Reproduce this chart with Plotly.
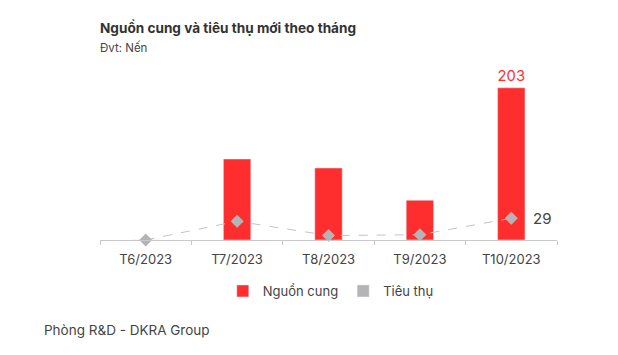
import plotly.graph_objects as go

months = ["T6/2023", "T7/2023", "T8/2023", "T9/2023", "T10/2023"]
nguon_cung = [0, 108, 96, 53, 203]
tieu_thu = [0, 25, 6, 7, 29]

RED = "#ff2e2e"
GRAY = "#b4b4b6"
FONT = "Inter"

bar_text = [str(v) if i == len(nguon_cung) - 1 else "" for i, v in enumerate(nguon_cung)]

fig = go.Figure()
fig.add_trace(go.Bar(
    x=months, y=nguon_cung, name="Nguồn cung",
    marker=dict(color=RED), width=0.3,
    text=bar_text, textposition="outside", cliponaxis=False,
    textfont=dict(color=RED, size=15, family=FONT),
))
fig.add_trace(go.Scatter(
    x=months, y=tieu_thu, name="Tiêu thụ", mode="lines+markers",
    line=dict(color="#c4c4c4", width=1, dash="dash"),
    marker=dict(symbol="diamond", size=10, color=GRAY),
    cliponaxis=False,
    showlegend=False,
))
# legend swatch for Tiêu thụ
fig.add_trace(go.Bar(x=[None], y=[None], name="Tiêu thụ", marker=dict(color=GRAY)))

fig.update_layout(
    width=610, height=347,
    margin=dict(l=92, r=61, t=52, b=115),
    paper_bgcolor="white", plot_bgcolor="white",
    font=dict(family=FONT, color="#444444"),
    barmode="overlay",
    showlegend=True,
    legend=dict(orientation="h", x=0.505, xanchor="center", y=-0.20, yanchor="top",
                font=dict(size=13, color="#444444"), itemwidth=30,
                traceorder="normal"),
    xaxis=dict(showline=True, linecolor="#c8c8c8", linewidth=1,
               ticks="outside", tickcolor="#c8c8c8", ticklen=4,
               tickson="boundaries", showgrid=False, ticklabelstandoff=7,
               tickfont=dict(size=13, color="#444444")),
    yaxis=dict(range=[0, 240], visible=False, showgrid=False),
    annotations=[
        dict(text="<b>Nguồn cung và tiêu thụ mới theo tháng</b>", xref="paper", yref="paper",
             x=-0.005, y=1.0, xanchor="left", yanchor="bottom", yshift=22, showarrow=False,
             font=dict(size=13.6, color="#333333", family=FONT)),
        dict(text="Đvt: Nến", xref="paper", yref="paper",
             x=-0.005, y=1.0, xanchor="left", yanchor="bottom", yshift=3, showarrow=False,
             font=dict(size=11.5, color="#444444", family=FONT)),
        dict(text=str(tieu_thu[-1]), x=months[-1], y=tieu_thu[-1], xref="x", yref="y",
             xanchor="left", yanchor="middle", xshift=20, showarrow=False,
             font=dict(size=15, color="#444444", family=FONT)),
        dict(text="Phòng R&D - DKRA Group", xref="paper", yref="paper",
             x=-0.127, y=0, xanchor="left", yanchor="middle", yshift=-90, showarrow=False,
             font=dict(size=13.5, color="#444444", family=FONT)),
    ],
)

fig.write_html("out.html")
